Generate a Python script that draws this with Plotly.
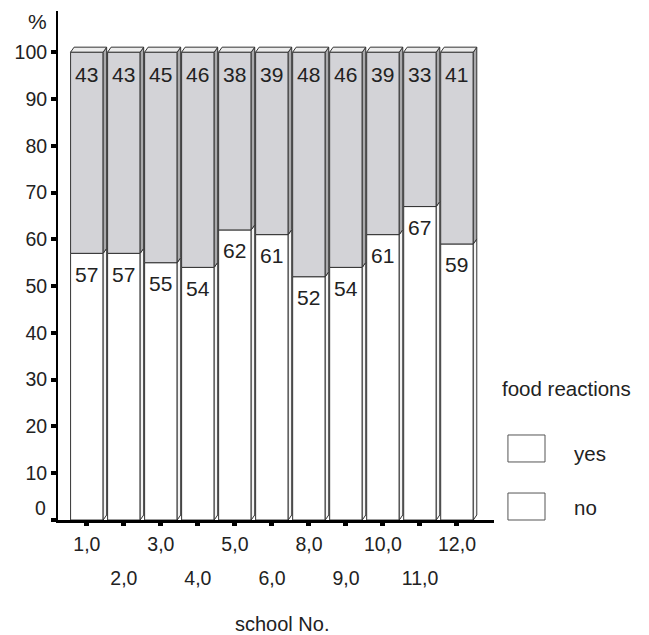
import plotly.graph_objects as go

schools = ["1,0", "2,0", "3,0", "4,0", "5,0", "6,0", "8,0", "9,0", "10,0", "11,0", "12,0"]
no_vals = [57, 57, 55, 54, 62, 61, 52, 54, 61, 67, 59]
yes_vals = [43, 43, 45, 46, 38, 39, 48, 46, 39, 33, 41]
y_ticks = [10, 20, 30, 40, 50, 60, 70, 80, 90, 100]

FONT = "Liberation Sans, Arial, sans-serif"
GRAY = "#d3d3d7"
SIDE_GRAY = "#a9a9ab"
OUT = "#333333"
TXT = "#222222"
W = 0.88
DX = 0.095
DY = 1.07

xs = list(range(len(schools)))

fig = go.Figure()
fig.add_trace(go.Bar(x=xs, y=no_vals, width=W, marker=dict(color="white", line=dict(color=OUT, width=1)),
                     name="no", showlegend=False, hoverinfo="skip"))
fig.add_trace(go.Bar(x=xs, y=yes_vals, base=no_vals, width=W,
                     marker=dict(color=GRAY, line=dict(color=OUT, width=1)),
                     name="yes", showlegend=False, hoverinfo="skip"))
# invisible trace for the secondary label axis
fig.add_trace(go.Scatter(x=[xs[0]], y=[0], xaxis="x2", mode="markers",
                         marker=dict(opacity=0), showlegend=False, hoverinfo="skip"))

shapes = []
annotations = []
for i, (n, y) in enumerate(zip(no_vals, yes_vals)):
    x0 = i - W / 2
    x1 = i + W / 2
    top = n + y
    shapes.append(dict(type="path", xref="x", yref="y", layer="above",
                       path=f"M{x1},0 L{x1},{n} L{x1+DX},{n+DY} L{x1+DX},{DY} Z",
                       fillcolor="#f4f4f4", line=dict(color=OUT, width=1)))
    shapes.append(dict(type="path", xref="x", yref="y", layer="above",
                       path=f"M{x1},{n} L{x1},{top} L{x1+DX},{top+DY} L{x1+DX},{n+DY} Z",
                       fillcolor=SIDE_GRAY, line=dict(color=OUT, width=1)))
    shapes.append(dict(type="path", xref="x", yref="y", layer="above",
                       path=f"M{x0},{top} L{x1},{top} L{x1+DX},{top+DY} L{x0+DX},{top+DY} Z",
                       fillcolor="#ececec", line=dict(color=OUT, width=1)))
    annotations.append(dict(x=i, y=n, xref="x", yref="y", text=str(n), showarrow=False,
                            yshift=-21, font=dict(size=21, color=TXT, family=FONT)))
    annotations.append(dict(x=i, y=top, xref="x", yref="y", text=str(y), showarrow=False,
                            yshift=-22, font=dict(size=21, color=TXT, family=FONT)))

# legend drawn manually
for (y0, y1) in [(0.114, 0.167), (0.0, 0.053)]:
    shapes.append(dict(type="rect", xref="paper", yref="paper", x0=1.032, x1=1.117, y0=y0, y1=y1,
                       fillcolor="white", line=dict(color="#555", width=1)))
annotations += [
    dict(x=1.0138, y=0.259, xref="paper", yref="paper", text="food reactions", showarrow=False,
         xanchor="left", yanchor="middle", font=dict(size=20.5, color=TXT, family=FONT)),
    dict(x=1.179, y=0.1316, xref="paper", yref="paper", text="yes", showarrow=False,
         xanchor="left", yanchor="middle", font=dict(size=20.5, color=TXT, family=FONT)),
    dict(x=1.179, y=0.0236, xref="paper", yref="paper", text="no", showarrow=False,
         xanchor="left", yanchor="middle", font=dict(size=20.5, color=TXT, family=FONT)),
    dict(x=0.514, y=-0.204, xref="paper", yref="paper", text="school No.", showarrow=False,
         xanchor="center", yanchor="middle", font=dict(size=20, color=TXT, family=FONT)),
    dict(x=-0.046, y=0.98, xref="paper", yref="paper", text="%", showarrow=False,
         xanchor="center", yanchor="middle", font=dict(size=21, color=TXT, family=FONT)),
    dict(x=-0.022, y=0, xref="paper", yref="y", text="0", showarrow=False, yshift=12,
         xanchor="right", yanchor="middle", font=dict(size=19.5, color=TXT, family=FONT)),
]

even_idx = xs[1::2]

fig.update_layout(
    width=649, height=635,
    margin=dict(l=50, r=163, t=3, b=123),
    plot_bgcolor="white", paper_bgcolor="white",
    barmode="overlay",
    showlegend=False,
    shapes=shapes,
    annotations=annotations,
    font=dict(family=FONT, color=TXT),
    xaxis=dict(range=[-0.78, 11.0], tickvals=xs,
               ticktext=[schools[i] if i % 2 == 0 else "" for i in xs],
               showline=True, linecolor="black", linewidth=2.5,
               ticks="outside", ticklen=3, tickwidth=5, tickcolor="black",
               showgrid=False, zeroline=False, ticklabelstandoff=2,
               tickfont=dict(size=19.5, color=TXT, family=FONT)),
    xaxis2=dict(overlaying="x", matches="x", anchor="y", side="bottom",
                tickvals=even_idx, ticktext=[schools[i] for i in even_idx],
                showline=False, ticks="", showgrid=False, zeroline=False,
                ticklabelstandoff=44,
                tickfont=dict(size=19.5, color=TXT, family=FONT)),
    yaxis=dict(range=[0, 108.8], tickvals=[0] + y_ticks, ticktext=[""] + [str(v) for v in y_ticks],
               showline=True, linecolor="black", linewidth=2,
               ticks="outside", ticklen=5, tickwidth=4, tickcolor="black",
               showgrid=False, zeroline=False,
               tickfont=dict(size=19.5, color=TXT, family=FONT)),
)

fig.write_html("out.html")
